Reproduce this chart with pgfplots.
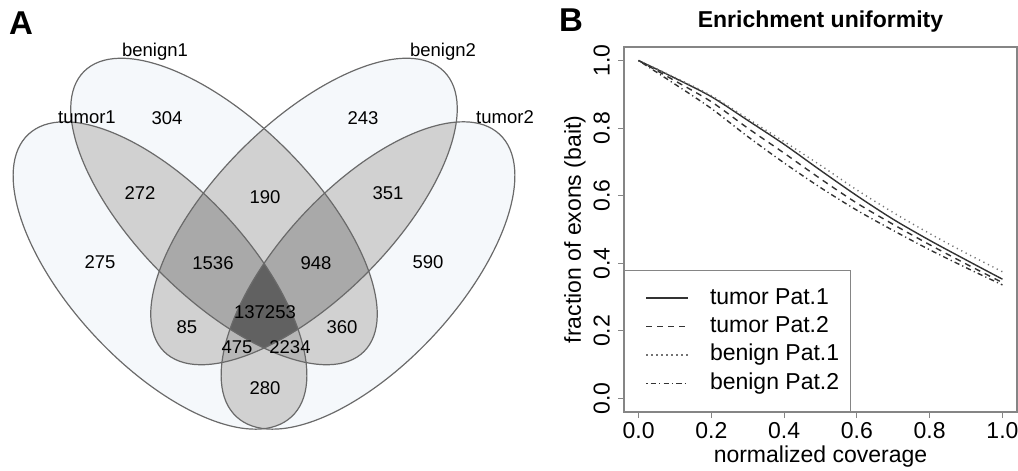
\documentclass[border=0pt]{standalone}
\usepackage{fontspec}
\setmainfont{Liberation Sans}
\usepackage{pgfplots}
\pgfplotsset{compat=1.18}

\definecolor{vone}{HTML}{F5F8FB}
\definecolor{vtwo}{HTML}{D1D1D1}
\definecolor{vthree}{HTML}{A9A9A9}
\definecolor{vthreel}{HTML}{B7B7B7}
\definecolor{vfour}{HTML}{616161}
\definecolor{vedge}{HTML}{6A6A6A}
\definecolor{rframe}{HTML}{858585}
\definecolor{rline}{HTML}{333333}

\newcommand\vfont{\fontsize{9.25}{11}\selectfont}
\newcommand\bfont{\fontsize{11.5}{13.5}\selectfont}
\newcommand\pfont{\fontsize{16.5}{18}\selectfont\bfseries}

% the four ellipses: tumor1, benign1, benign2, tumor2
\newcommand\ET{[rotate around={-47:(cT1)}] (cT1) ellipse [x radius=96.5pt, y radius=44.5pt]}
\newcommand\EB{[rotate around={-45:(cB1)}] (cB1) ellipse [x radius=99pt, y radius=44pt]}
\newcommand\EC{[rotate around={45:(cB2)}] (cB2) ellipse [x radius=99pt, y radius=44pt]}
\newcommand\ED{[rotate around={47:(cT2)}] (cT2) ellipse [x radius=96.5pt, y radius=44.5pt]}

\begin{document}
\begin{tikzpicture}
% ---- A: Venn diagram ----
\begin{axis}[
    at={(0pt,0pt)}, anchor=south west, scale only axis,
    width=260pt, height=235.5pt,
    xmin=0, xmax=520, ymin=0, ymax=471,
    hide axis, clip=false,
]
\coordinate (cT1) at (axis cs:160,195.5);
\coordinate (cB1) at (axis cs:224,259.5);
\coordinate (cB2) at (axis cs:304,259.5);
\coordinate (cT2) at (axis cs:368,195.5);

\fill[vone]\ET; \fill[vone]\EB; \fill[vone]\EC; \fill[vone]\ED;
% two sets
\begin{scope}\clip\ET; \fill[vtwo]\EB; \fill[vtwo]\EC; \fill[vtwo]\ED; \end{scope}
\begin{scope}\clip\EB; \fill[vtwo]\EC; \fill[vtwo]\ED; \end{scope}
\begin{scope}\clip\EC; \fill[vtwo]\ED; \end{scope}
% three sets
\begin{scope}\clip\ET; \clip\EB; \fill[vthree]\EC; \fill[vthreel]\ED; \end{scope}
\begin{scope}\clip\ET; \clip\EC; \fill[vthreel]\ED; \end{scope}
\begin{scope}\clip\EB; \clip\EC; \fill[vthree]\ED; \end{scope}
% four sets
\begin{scope}\clip\ET; \clip\EB; \clip\EC; \fill[vfour]\ED; \end{scope}

\draw[vedge, line width=0.6pt]\ET;
\draw[vedge, line width=0.6pt]\EB;
\draw[vedge, line width=0.6pt]\EC;
\draw[vedge, line width=0.6pt]\ED;

\node[font=\vfont] at (axis cs:167,353) {304};
\node[font=\vfont] at (axis cs:363,353) {243};
\node[font=\vfont] at (axis cs:140,278) {272};
\node[font=\vfont] at (axis cs:265,274) {190};
\node[font=\vfont] at (axis cs:388,278) {351};
\node[font=\vfont] at (axis cs:100,209) {275};
\node[font=\vfont] at (axis cs:213,208) {1536};
\node[font=\vfont] at (axis cs:316,208) {948};
\node[font=\vfont] at (axis cs:428,209) {590};
\node[font=\vfont] at (axis cs:265,159) {137253};
\node[font=\vfont] at (axis cs:187,144) {85};
\node[font=\vfont] at (axis cs:342,144) {360};
\node[font=\vfont] at (axis cs:237,124) {475};
\node[font=\vfont] at (axis cs:290,124) {2234};
\node[font=\vfont] at (axis cs:265,83) {280};

\node[font=\vfont] at (axis cs:155,419) {benign1};
\node[font=\vfont] at (axis cs:443,419) {benign2};
\node[font=\vfont] at (axis cs:87,354) {tumor1};
\node[font=\vfont] at (axis cs:505,354) {tumor2};

\node[font=\pfont] at (axis cs:21,448) {A};
\end{axis}

% ---- B: enrichment uniformity ----
\begin{axis}[
    at={(312pt,29.5pt)}, anchor=south west, scale only axis,
    width=196.5pt, height=182.5pt,
    xmin=-0.04, xmax=1.04, ymin=-0.04, ymax=1.04, clip=false,
    xtick={0,0.2,0.4,0.6,0.8,1}, ytick={0,0.2,0.4,0.6,0.8,1},
    tick pos=left, tick align=outside, major tick length=3pt,
    axis line style={rframe, line width=0.6pt},
    tick style={rframe, line width=0.6pt},
    /pgf/number format/.cd, fixed, fixed zerofill, precision=1, assume math mode=true,
    /pgfplots/.cd,
    ticklabel style={font=\bfont, text=black},
    yticklabel style={rotate=90, anchor=south, inner sep=0pt},
    xticklabel style={anchor=north, inner sep=0pt},
    yticklabel shift=3.9pt, xticklabel shift=1.9pt,
    title={Enrichment uniformity},
    title style={font=\bfont\bfseries, at={(axis description cs:0.5,1.074)}, anchor=center, yshift=-7pt},
    xlabel={normalized coverage}, ylabel={fraction of exons (bait)},
    xlabel style={font=\bfont, at={(axis description cs:0.5,-0.1233)}, anchor=center},
    ylabel style={font=\bfont, at={(axis description cs:-0.1247,0.5)}, anchor=center},
    legend style={at={(0,0)}, anchor=south west, draw=rframe, line width=0.6pt,
        fill=white, font=\bfont, inner xsep=5.5pt, inner ysep=8pt, row sep=2.2pt,
        nodes={inner sep=0pt, text height=9pt, text depth=3pt}, cells={anchor=west}},
    legend image code/.code={\path (-5pt,0pt); \draw[#1] (0pt,0pt) -- (21pt,0pt); \path (31.5pt,0pt);},
    every axis plot/.append style={rline, line width=0.7pt, smooth, tension=0.5},
]
\addplot[solid] coordinates {(0,1) (0.1,0.948) (0.2,0.893) (0.3,0.823) (0.4,0.752) (0.5,0.675)
    (0.6,0.600) (0.7,0.530) (0.8,0.468) (0.9,0.410) (1,0.353)};
\addplot[dash pattern=on 3pt off 2.5pt] coordinates {(0,1) (0.1,0.940) (0.2,0.878) (0.3,0.800)
    (0.4,0.726) (0.5,0.650) (0.6,0.578) (0.7,0.515) (0.8,0.455) (0.9,0.398) (1,0.343)};
\addplot[black!55, dash pattern=on 0.6pt off 1.9pt] coordinates {(0,1) (0.1,0.950) (0.2,0.896) (0.3,0.828)
    (0.4,0.760) (0.5,0.690) (0.6,0.617) (0.7,0.550) (0.8,0.488) (0.9,0.430) (1,0.375)};
\addplot[dash pattern=on 0.6pt off 1.6pt on 2.6pt off 1.6pt] coordinates {(0,1) (0.1,0.930)
    (0.2,0.858) (0.3,0.775) (0.4,0.697) (0.5,0.624) (0.6,0.557) (0.7,0.497) (0.8,0.440)
    (0.9,0.387) (1,0.336)};
\legend{tumor Pat.1, tumor Pat.2, benign Pat.1, benign Pat.2}
\node[font=\pfont] at (rel axis cs:-0.135,1.074) {B};
\end{axis}
\pgfresetboundingbox
\path (0,0) rectangle (509pt,235.5pt);
\end{tikzpicture}
\end{document}
